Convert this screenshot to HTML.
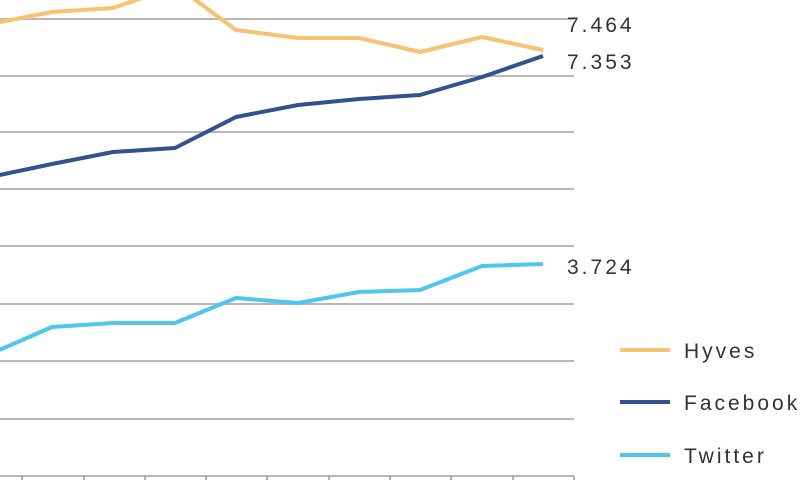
<!DOCTYPE html>
<html><head><style>body{margin:0;background:#fff}</style></head><body>
<svg width="800" height="480" xmlns="http://www.w3.org/2000/svg" font-family="Liberation Sans, sans-serif">
<g stroke="#b8b8b8" stroke-width="2">
<line x1="0" y1="19" x2="574" y2="19"/><line x1="0" y1="76" x2="574" y2="76"/>
<line x1="0" y1="132" x2="574" y2="132"/><line x1="0" y1="189" x2="574" y2="189"/>
<line x1="0" y1="246" x2="574" y2="246"/><line x1="0" y1="304" x2="574" y2="304"/>
<line x1="0" y1="361" x2="574" y2="361"/><line x1="0" y1="419" x2="574" y2="419"/>
<line x1="0" y1="476" x2="574" y2="476"/>
</g>
<g stroke="#999" stroke-width="1.5">
<line x1="22" y1="476" x2="22" y2="480"/><line x1="84" y1="476" x2="84" y2="480"/><line x1="145" y1="476" x2="145" y2="480"/><line x1="206" y1="476" x2="206" y2="480"/><line x1="267" y1="476" x2="267" y2="480"/><line x1="329" y1="476" x2="329" y2="480"/><line x1="390" y1="476" x2="390" y2="480"/><line x1="451" y1="476" x2="451" y2="480"/><line x1="513" y1="476" x2="513" y2="480"/><line x1="574" y1="476" x2="574" y2="480"/>
</g>
<g fill="none" stroke-width="4" stroke-linejoin="round">
<polyline stroke="#f7c272" points="-10,24 52,12 113,8 148,-4 190,-4 236,30 298,38 359,38 420,52 482,37 543,50"/>
<polyline stroke="#34518f" points="-10,177 52,164 113,152 175,148 236,117 298,105 359,99 420,95 482,77 543,56"/>
<polyline stroke="#4fc6ee" points="-10,354 52,327 113,323 175,323 236,298 298,303 359,292 420,290 482,266 543,264"/>
</g>
<g font-size="21" fill="#333" letter-spacing="3">
<text x="567" y="32">7.464</text><text x="567" y="69">7.353</text><text x="567" y="274">3.724</text>
<text x="684" y="358">Hyves</text><text x="684" y="410">Facebook</text><text x="684" y="463">Twitter</text>
</g>
<g stroke-width="4">
<line x1="620" y1="350" x2="670" y2="350" stroke="#f7c272"/>
<line x1="620" y1="402" x2="670" y2="402" stroke="#34518f"/>
<line x1="620" y1="455" x2="670" y2="455" stroke="#4fc6ee"/>
</g>
</svg>
</body></html>
